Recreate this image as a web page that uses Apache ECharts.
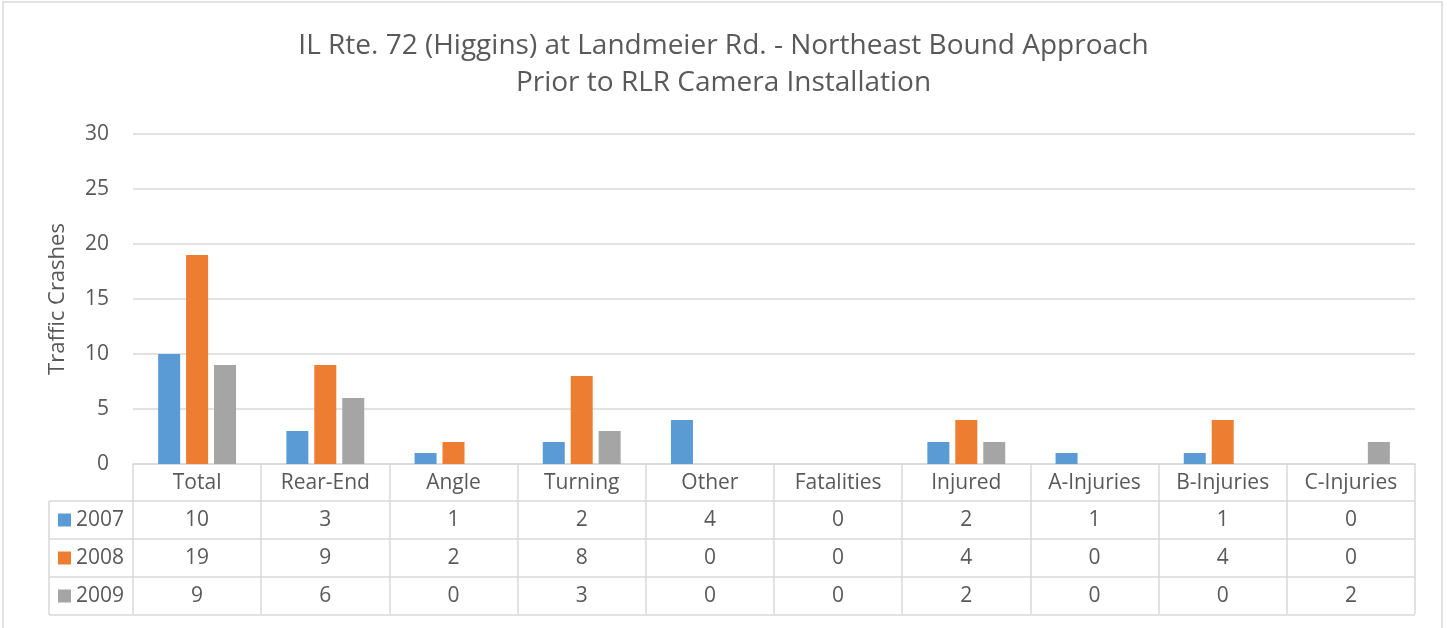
<!DOCTYPE html>
<html>
<head>
<meta charset="utf-8">
<script src="https://cdn.jsdelivr.net/npm/echarts@6/dist/echarts.min.js"></script>
<style>
  html, body { margin: 0; padding: 0; background: #fff; }
  #main { width: 1447px; height: 628px; }
</style>
</head>
<body>
<div id="main"></div>
<script>
// data
var categories = ['Total', 'Rear-End', 'Angle', 'Turning', 'Other', 'Fatalities', 'Injured', 'A-Injuries', 'B-Injuries', 'C-Injuries'];
var seriesNames = ['2007', '2008', '2009'];
var values2007 = [10, 3, 1, 2, 4, 0, 2, 1, 1, 0];
var values2008 = [19, 9, 2, 8, 0, 0, 4, 0, 4, 0];
var values2009 = [9, 6, 0, 3, 0, 0, 2, 0, 0, 2];
var yTicks = [0, 5, 10, 15, 20, 25, 30];

var colors = ['#5B9BD5', '#ED7D31', '#A5A5A5'];
var allValues = [values2007, values2008, values2009];
var font = '"Open Sans", "Noto Sans", sans-serif';
var textColor = '#595959';
var lineColor = '#d9d9d9';
var labelSize = 21;

var chart = echarts.init(document.getElementById('main'));

var option = {
  animation: false,
  color: colors,
  textStyle: { fontFamily: font },
  title: {
    text: 'IL Rte. 72 (Higgins) at Landmeier Rd. - Northeast Bound Approach\nPrior to RLR Camera Installation',
    left: 'center',
    top: 23,
    textStyle: {
      fontFamily: font,
      fontSize: 28,
      fontWeight: 'normal',
      color: textColor,
      lineHeight: 37
    }
  },
  grid: {
    left: 133,
    right: 32,
    top: 134,
    bottom: 164
  },
  xAxis: {
    type: 'category',
    data: categories,
    axisLine: { show: true, lineStyle: { color: lineColor, width: 1.5 } },
    axisTick: { show: true, length: 150, lineStyle: { color: lineColor, width: 1.5 } },
    axisLabel: {
      fontSize: labelSize,
      color: textColor,
      margin: 19,
      verticalAlign: 'middle',
      interval: 0
    }
  },
  yAxis: {
    type: 'value',
    min: yTicks[0],
    max: yTicks[yTicks.length - 1],
    interval: 5,
    name: 'Traffic Crashes',
    nameLocation: 'middle',
    nameGap: 64,
    nameTextStyle: { fontSize: 22, color: textColor },
    axisLine: { show: false },
    axisTick: { show: false },
    axisLabel: { fontSize: labelSize, color: textColor, margin: 24 },
    splitLine: { lineStyle: { color: lineColor, width: 1.5 } }
  },
  series: seriesNames.map(function (name, i) {
    return {
      name: name,
      type: 'bar',
      data: allValues[i],
      barWidth: 22,
      barGap: '27%',
      itemStyle: { color: colors[i] }
    };
  })
};

chart.setOption(option);

// data table under the axis, placed from the axis scale
function buildTable() {
  var x0 = chart.convertToPixel({ xAxisIndex: 0 }, 0);
  var x1 = chart.convertToPixel({ xAxisIndex: 0 }, 1);
  var step = x1 - x0;
  var left = x0 - step / 2;
  var right = left + step * categories.length;
  var axisY = chart.convertToPixel({ yAxisIndex: 0 }, 0);
  var headerH = 37;
  var rowH = 38;
  var tableLeft = 49;
  var elements = [];

  // outer chart frame
  elements.push({
    type: 'rect',
    shape: { x: 3, y: 2, width: 1439, height: 660 },
    style: { fill: null, stroke: lineColor, lineWidth: 1.5 },
    silent: true
  });

  for (var r = 0; r <= seriesNames.length; r++) {
    var y = axisY + headerH + rowH * r;
    elements.push({
      type: 'line',
      shape: { x1: tableLeft, y1: y, x2: right, y2: y },
      style: { stroke: lineColor, lineWidth: 1.5 },
      silent: true
    });
  }
  elements.push({
    type: 'line',
    shape: { x1: tableLeft, y1: axisY + headerH, x2: tableLeft, y2: axisY + headerH + rowH * seriesNames.length },
    style: { stroke: lineColor, lineWidth: 1.5 },
    silent: true
  });

  seriesNames.forEach(function (name, i) {
    var cy = axisY + headerH + rowH * i + rowH / 2;
    elements.push({
      type: 'rect',
      shape: { x: 58, y: cy - 6.5, width: 13, height: 13 },
      style: { fill: colors[i] },
      silent: true
    });
    elements.push({
      type: 'text',
      x: 76,
      y: cy,
      style: {
        text: name,
        fill: textColor,
        font: labelSize + 'px ' + font,
        verticalAlign: 'middle'
      },
      silent: true
    });
    allValues[i].forEach(function (v, j) {
      elements.push({
        type: 'text',
        x: left + step * (j + 0.5),
        y: cy,
        style: {
          text: String(v),
          fill: textColor,
          font: labelSize + 'px ' + font,
          align: 'center',
          verticalAlign: 'middle'
        },
        silent: true
      });
    });
  });

  chart.setOption({ graphic: { elements: elements } });
}

buildTable();
</script>
</body>
</html>
